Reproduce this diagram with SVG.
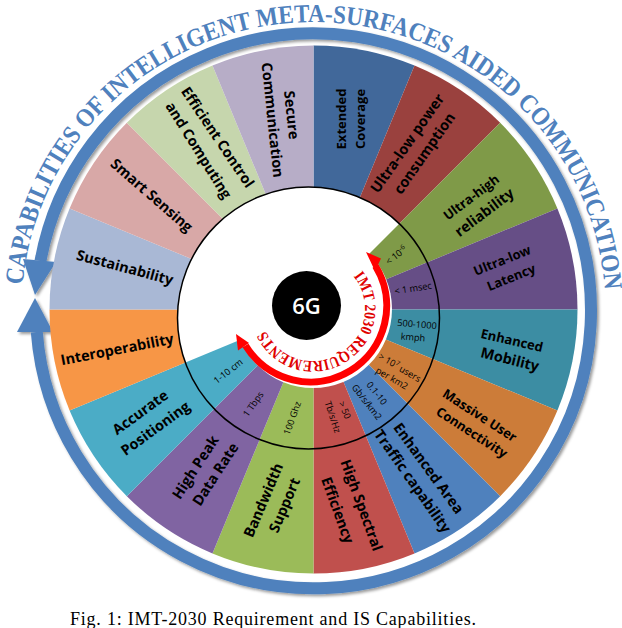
<svg xmlns="http://www.w3.org/2000/svg" xmlns:xlink="http://www.w3.org/1999/xlink" width="622" height="628" viewBox="0 0 622 628">
<style>
.l{font-family:"Open Sans","Liberation Sans",sans-serif;font-weight:700;font-size:14.5px;fill:#000;text-anchor:middle;dominant-baseline:central}
.m{font-size:13px}
.q{font-family:"Open Sans","Liberation Sans",sans-serif;font-weight:500;font-size:9.2px;fill:#000;text-anchor:middle;dominant-baseline:central}
.s{font-size:6.5px}
.ring{fill:none;stroke:#4f81bd;stroke-width:12}
.arrow{fill:#4f81bd}
.red{fill:none;stroke:#f00;stroke-width:7}
.redhead{fill:#f00}
</style>
<defs>
<filter id="sh" x="-5%" y="-5%" width="110%" height="110%"><feDropShadow dx="2" dy="2" stdDeviation="1.5" flood-color="#000" flood-opacity="0.4"/></filter>
<clipPath id="disc"><circle cx="308.5" cy="318" r="131"/></clipPath>
<path id="outerArc" d="M22.7 285A292 289 0 0 1 604.3 285A292 289 0 0 1 605.5 300"/>
<path id="redArc" d="M353.4 276.3A52 52 0 1 1 261.2 313.5"/>
</defs>
<rect width="622" height="628" fill="#fff"/>
<g id="capabilities-ring" filter="url(#sh)">
<path class="ring" d="M40.5 261A277.5 277.5 0 1 1 36.8 332"/>
<polygon class="arrow" points="23,259 56,262 35,295"/>
<polygon class="arrow" points="17,332 53,332 35,298"/>
</g>
<text font-family="'Liberation Serif',serif" font-weight="700" font-size="26" fill="#4f81bd"><textPath href="#outerArc" textLength="865" lengthAdjust="spacingAndGlyphs">CAPABILITIES OF INTELLIGENT META-SURFACES AIDED COMMUNICATION</textPath></text>

<g id="extended-coverage"><path id="w0" fill="#41689a" d="M313.5 309.5L313.5 45.5A264 264 0 0 1 414.53 65.6Z"/></g>
<g id="ultra-low-power"><path id="w1" fill="#9a413e" d="M313.5 309.5L414.53 65.6A264 264 0 0 1 500.18 122.82Z"/></g>
<g id="ultra-high-reliability"><path id="w2" fill="#7f9a48" d="M313.5 309.5L500.18 122.82A264 264 0 0 1 557.4 208.47Z"/></g>
<g id="ultra-low-latency"><path id="w3" fill="#664e86" d="M313.5 309.5L557.4 208.47A264 264 0 0 1 577.5 309.5Z"/></g>
<g id="enhanced-mobility"><path id="w4" fill="#3c8da3" d="M313.5 309.5L577.5 309.5A264 264 0 0 1 557.4 410.53Z"/></g>
<g id="massive-user"><path id="w5" fill="#cc7c39" d="M313.5 309.5L557.4 410.53A264 264 0 0 1 500.18 496.18Z"/></g>
<g id="enhanced-area"><path id="w6" fill="#4f81bd" d="M313.5 309.5L500.18 496.18A264 264 0 0 1 414.53 553.4Z"/></g>
<g id="high-spectral"><path id="w7" fill="#c0504d" d="M313.5 309.5L414.53 553.4A264 264 0 0 1 313.5 573.5Z"/></g>
<g id="bandwidth"><path id="w8" fill="#9bbb59" d="M313.5 309.5L313.5 573.5A264 264 0 0 1 212.47 553.4Z"/></g>
<g id="high-peak"><path id="w9" fill="#8064a2" d="M313.5 309.5L212.47 553.4A264 264 0 0 1 126.82 496.18Z"/></g>
<g id="accurate-positioning"><path id="w10" fill="#4bacc6" d="M313.5 309.5L126.82 496.18A264 264 0 0 1 69.6 410.53Z"/></g>
<g id="interoperability"><path fill="#f79646" d="M313.5 309.5L69.6 410.53A264 264 0 0 1 49.5 309.5Z"/></g>
<g id="sustainability"><path fill="#a9b8d5" d="M313.5 309.5L49.5 309.5A264 264 0 0 1 69.6 208.47Z"/></g>
<g id="smart-sensing"><path fill="#d8a8a7" d="M313.5 309.5L69.6 208.47A264 264 0 0 1 126.82 122.82Z"/></g>
<g id="efficient-control"><path fill="#c6d6ad" d="M313.5 309.5L126.82 122.82A264 264 0 0 1 212.47 65.6Z"/></g>
<g id="secure-communication"><path fill="#b7adc7" d="M313.5 309.5L212.47 65.6A264 264 0 0 1 313.5 45.5Z"/></g>

<g id="requirements-band">
<circle cx="308.5" cy="318" r="131" fill="#fff"/>
<g clip-path="url(#disc)">
<use href="#w2"/><use href="#w3"/><use href="#w4"/><use href="#w5"/><use href="#w6"/><use href="#w7"/><use href="#w8"/><use href="#w9"/><use href="#w10"/>
</g>
<circle cx="313" cy="309" r="79" fill="#fff"/>
<circle cx="308.5" cy="318" r="131" fill="none" stroke="#000" stroke-width="1.5"/>
</g>

<g id="labels">
<text class="l m" transform="translate(341 119) rotate(-90)">Extended</text>
<text class="l m" transform="translate(360 119) rotate(-90)">Coverage</text>
<text class="l" transform="translate(407 143) rotate(-55)">Ultra-low power</text>
<text class="l" transform="translate(424 153) rotate(-55)">consumption</text>
<text class="l m" transform="translate(471 197) rotate(-37)">Ultra-high</text>
<text class="l" transform="translate(484 212) rotate(-37)">reliability</text>
<text class="l m" transform="translate(502 260) rotate(-22)">Ultra-low</text>
<text class="l m" transform="translate(511 277) rotate(-22)">Latency</text>
<text class="l m" transform="translate(512 340) rotate(13)">Enhanced</text>
<text class="l" transform="translate(510 359) rotate(14)">Mobility</text>
<text class="l m" transform="translate(480 415) rotate(33)">Massive User</text>
<text class="l m" transform="translate(472 432) rotate(33)">Connectivity</text>
<text class="l" transform="translate(429 468) rotate(54)">Enhanced Area</text>
<text class="l" transform="translate(413 481) rotate(55)">Traffic capability</text>
<text class="l" transform="translate(362 505) rotate(70)">High Spectral</text>
<text class="l" transform="translate(338 510) rotate(70)">Efficiency</text>
<text class="l" transform="translate(263 500) rotate(-67)">Bandwidth</text>
<text class="l" transform="translate(284 505) rotate(-67)">Support</text>
<text class="l" transform="translate(195 467) rotate(-57)">High Peak</text>
<text class="l" transform="translate(215 474) rotate(-57)">Data Rate</text>
<text class="l" transform="translate(140 412) rotate(-36)">Accurate</text>
<text class="l" transform="translate(155 428) rotate(-36)">Positioning</text>
<text class="l" transform="translate(117 349) rotate(-11)">Interoperability</text>
<text class="l" transform="translate(125 267) rotate(15)">Sustainability</text>
<text class="l" transform="translate(152 195) rotate(41)">Smart Sensing</text>
<text class="l" transform="translate(218 137) rotate(56)">Efficient Control</text>
<text class="l" transform="translate(199 150) rotate(58)">and Computing</text>
<text class="l" transform="translate(292 115) rotate(84)">Secure</text>
<text class="l" transform="translate(273 120) rotate(84)">Communication</text>

<text class="q" transform="translate(396 255) rotate(-38)">&lt; 10<tspan class="s" dy="-3">-6</tspan></text>
<text class="q" transform="translate(413 288) rotate(-9)">&lt; 1 msec</text>
<text class="q" transform="translate(417 324) rotate(5)">500-1000</text>
<text class="q" transform="translate(413 337) rotate(5)">kmph</text>
<text class="q" transform="translate(400 367) rotate(30)">&gt; 10<tspan class="s" dy="-3">7</tspan><tspan dy="3"> users</tspan></text>
<text class="q" transform="translate(392 378) rotate(30)">per km2</text>
<text class="q" transform="translate(377 393) rotate(52)">0.1-10</text>
<text class="q" transform="translate(367 402) rotate(52)">Gb/s/km2</text>
<text class="q" transform="translate(345 410) rotate(68)">&gt; 50</text>
<text class="q" transform="translate(333 417) rotate(72)">Tb/s/Hz</text>
<text class="q" transform="translate(292 418) rotate(-70)">100  Ghz</text>
<text class="q" transform="translate(253 404) rotate(-55)">1 Tbps</text>
<text class="q" transform="translate(228 371) rotate(-38)">1-10 cm</text>
</g>

<g id="imt-arrow">
<path class="red" d="M375.5 266A76 76 0 1 1 245.5 345.5"/>
<polygon class="redhead" points="366,252 381,258.5 375,271"/>
<polygon class="redhead" points="236,334 249,343 238,350.5"/>
<text font-family="'Liberation Serif',serif" font-weight="700" font-size="16" fill="#e00000"><textPath href="#redArc" textLength="176" lengthAdjust="spacingAndGlyphs">IMT 2030 REQUIREMENTS</textPath></text>
</g>

<g id="center-6g">
<circle cx="306.5" cy="305.5" r="34.5" fill="#000"/>
<text x="306.5" y="314" text-anchor="middle" font-family="'Open Sans',sans-serif" font-weight="600" font-size="22" fill="#fff">6G</text>
</g>

<text x="70" y="625" font-family="'Liberation Serif',serif" font-size="18" fill="#000" textLength="406" lengthAdjust="spacing">Fig. 1: IMT-2030 Requirement and IS Capabilities.</text>
</svg>
